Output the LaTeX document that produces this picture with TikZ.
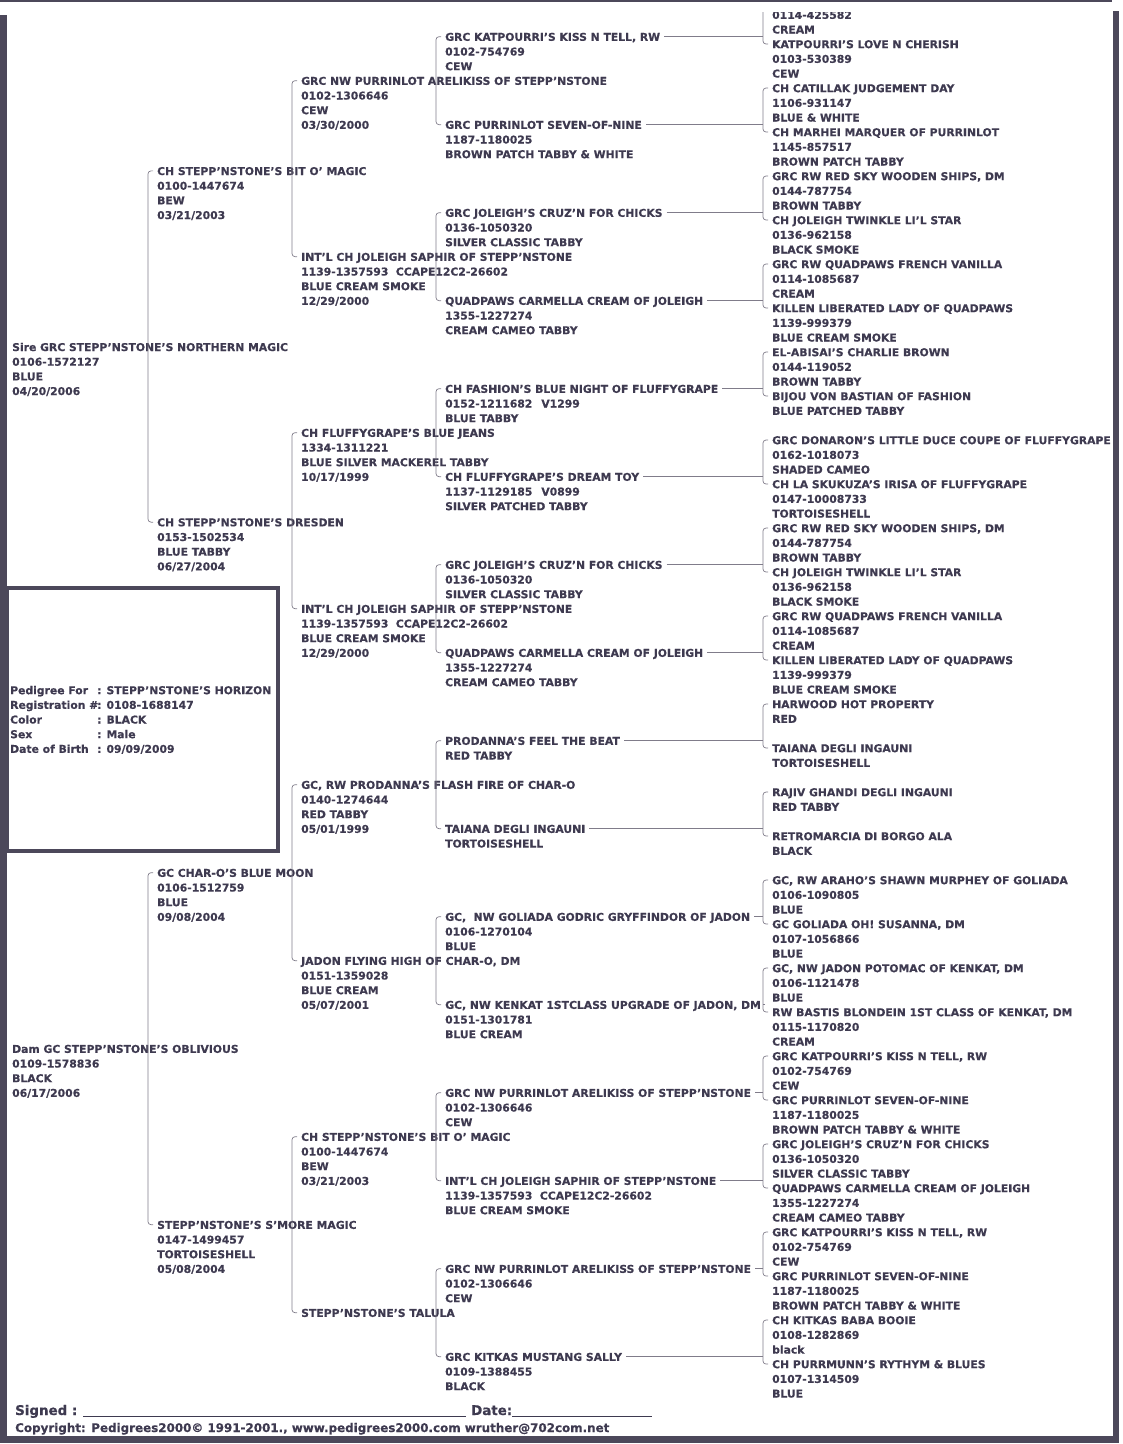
\documentclass[tikz,border=0pt]{standalone}
\usepackage{fontspec}
\setmainfont{DejaVu Sans}[BoldFeatures={FakeBold=0.5}]
\usetikzlibrary{calc}

\definecolor{ink}{RGB}{62,58,80}
\definecolor{wire}{RGB}{128,124,138}
\definecolor{framecol}{RGB}{76,72,90}

\begin{document}
\begin{tikzpicture}[
  x=1pt, y=-1pt,
  cat/.style={anchor=north west, inner sep=0pt, yshift=6.3pt, align=left, text=ink,
              font=\fontsize{10.8}{14.667}\selectfont\bfseries},
  brk/.style={draw=wire, line width=0.7pt, rounded corners=3pt},
  tie/.style={draw=wire, line width=0.7pt},
  foot/.style={anchor=base west, inner sep=0pt, text=ink}
]
\useasboundingbox (0,0) rectangle (1123,1444);

% --- page frame ---
\fill[framecol] (0,15) rectangle (7,1442);
\fill[framecol] (1113,11) rectangle (1119,1442);
\fill[framecol] (0,1436) rectangle (1119,1443);
\draw[framecol, line width=2pt] (0,1) -- (1112,1);
\draw[framecol, line width=4.5pt] (7,588) rectangle (278,851);

% --- the cat this is for ---
\node[cat] (info) at (10,690) {\strut\makebox[87pt][l]{Pedigree For}: STEPP'NSTONE'S HORIZON\\\makebox[87pt][l]{Registration \#}: 0108-1688147\\\makebox[87pt][l]{Color}: BLACK\\\makebox[87pt][l]{Sex}: Male\\\makebox[87pt][l]{Date of Birth}: 09/09/2009};

\begin{scope}[y=-14.667pt]
\clip (0,0.85) rectangle (1123,98.4);

% --- parents ---
\node[cat] (s) at (12,23.65) {\strut Sire GRC STEPP'NSTONE'S NORTHERN MAGIC\\0106-1572127\\BLUE\\04/20/2006};
\node[cat] (d) at (12,71.5) {\strut Dam GC STEPP'NSTONE'S OBLIVIOUS\\0109-1578836\\BLACK\\06/17/2006};

% --- grandparents ---
\node[cat] (ss) at (157,11.65) {\strut CH STEPP'NSTONE'S BIT O' MAGIC\\0100-1447674\\BEW\\03/21/2003};
\node[cat] (sd) at (157,35.6) {\strut CH STEPP'NSTONE'S DRESDEN\\0153-1502534\\BLUE TABBY\\06/27/2004};
\node[cat] (ds) at (157,59.5) {\strut GC CHAR-O'S BLUE MOON\\0106-1512759\\BLUE\\09/08/2004};
\node[cat] (dd) at (157,83.5) {\strut STEPP'NSTONE'S S'MORE MAGIC\\0147-1499457\\TORTOISESHELL\\05/08/2004};

% --- great-grandparents ---
\node[cat] (sss) at (301,5.5) {\strut GRC NW PURRINLOT ARELIKISS OF STEPP'NSTONE\\0102-1306646\\CEW\\03/30/2000};
\node[cat] (ssd) at (301,17.5) {\strut INT'L CH JOLEIGH SAPHIR OF STEPP'NSTONE\\1139-1357593\ \ CCAPE12C2-26602\\BLUE CREAM SMOKE\\12/29/2000};
\node[cat] (sds) at (301,29.5) {\strut CH FLUFFYGRAPE'S BLUE JEANS\\1334-1311221\\BLUE SILVER MACKEREL TABBY\\10/17/1999};
\node[cat] (sdd) at (301,41.5) {\strut INT'L CH JOLEIGH SAPHIR OF STEPP'NSTONE\\1139-1357593\ \ CCAPE12C2-26602\\BLUE CREAM SMOKE\\12/29/2000};
\node[cat] (dss) at (301,53.5) {\strut GC, RW PRODANNA'S FLASH FIRE OF CHAR-O\\0140-1274644\\RED TABBY\\05/01/1999};
\node[cat] (dsd) at (301,65.5) {\strut JADON FLYING HIGH OF CHAR-O, DM\\0151-1359028\\BLUE CREAM\\05/07/2001};
\node[cat] (dds) at (301,77.5) {\strut CH STEPP'NSTONE'S BIT O' MAGIC\\0100-1447674\\BEW\\03/21/2003};
\node[cat] (ddd) at (301,89.5) {\strut STEPP'NSTONE'S TALULA};

% --- generation 4 ---
\node[cat] (ssss) at (445,2.5) {\strut GRC KATPOURRI'S KISS N TELL, RW\\0102-754769\\CEW};
\node[cat] (sssd) at (445,8.5) {\strut GRC PURRINLOT SEVEN-OF-NINE\\1187-1180025\\BROWN PATCH TABBY \& WHITE};
\node[cat] (ssds) at (445,14.5) {\strut GRC JOLEIGH'S CRUZ'N FOR CHICKS\\0136-1050320\\SILVER CLASSIC TABBY};
\node[cat] (ssdd) at (445,20.5) {\strut QUADPAWS CARMELLA CREAM OF JOLEIGH\\1355-1227274\\CREAM CAMEO TABBY};
\node[cat] (sdss) at (445,26.5) {\strut CH FASHION'S BLUE NIGHT OF FLUFFYGRAPE\\0152-1211682\hspace{9pt}V1299\\BLUE TABBY};
\node[cat] (sdsd) at (445,32.5) {\strut CH FLUFFYGRAPE'S DREAM TOY\\1137-1129185\hspace{9pt}V0899\\SILVER PATCHED TABBY};
\node[cat] (sdds) at (445,38.5) {\strut GRC JOLEIGH'S CRUZ'N FOR CHICKS\\0136-1050320\\SILVER CLASSIC TABBY};
\node[cat] (sddd) at (445,44.5) {\strut QUADPAWS CARMELLA CREAM OF JOLEIGH\\1355-1227274\\CREAM CAMEO TABBY};
\node[cat] (dsss) at (445,50.5) {\strut PRODANNA'S FEEL THE BEAT\\RED TABBY};
\node[cat] (dssd) at (445,56.5) {\strut TAIANA DEGLI INGAUNI\\TORTOISESHELL};
\node[cat] (dsds) at (445,62.5) {\strut GC,\ \ NW GOLIADA GODRIC GRYFFINDOR OF JADON\\0106-1270104\\BLUE};
\node[cat] (dsdd) at (445,68.5) {\strut GC, NW KENKAT 1STCLASS UPGRADE OF JADON, DM\\0151-1301781\\BLUE CREAM};
\node[cat] (ddss) at (445,74.5) {\strut GRC NW PURRINLOT ARELIKISS OF STEPP'NSTONE\\0102-1306646\\CEW};
\node[cat] (ddsd) at (445,80.5) {\strut INT'L CH JOLEIGH SAPHIR OF STEPP'NSTONE\\1139-1357593\ \ CCAPE12C2-26602\\BLUE CREAM SMOKE};
\node[cat] (ddds) at (445,86.5) {\strut GRC NW PURRINLOT ARELIKISS OF STEPP'NSTONE\\0102-1306646\\CEW};
\node[cat] (dddd) at (445,92.5) {\strut GRC KITKAS MUSTANG SALLY\\0109-1388455\\BLACK};

% --- generation 5 ---
\node[cat] (sssss) at (772,0) {\strut\\0114-425582\\CREAM};
\node[cat] (ssssd) at (772,3) {\strut KATPOURRI'S LOVE N CHERISH\\0103-530389\\CEW};
\node[cat] (sssds) at (772,6) {\strut CH CATILLAK JUDGEMENT DAY\\1106-931147\\BLUE \& WHITE};
\node[cat] (sssdd) at (772,9) {\strut CH MARHEI MARQUER OF PURRINLOT\\1145-857517\\BROWN PATCH TABBY};
\node[cat] (ssdss) at (772,12) {\strut GRC RW RED SKY WOODEN SHIPS, DM\\0144-787754\\BROWN TABBY};
\node[cat] (ssdsd) at (772,15) {\strut CH JOLEIGH TWINKLE LI'L STAR\\0136-962158\\BLACK SMOKE};
\node[cat] (ssdds) at (772,18) {\strut GRC RW QUADPAWS FRENCH VANILLA\\0114-1085687\\CREAM};
\node[cat] (ssddd) at (772,21) {\strut KILLEN LIBERATED LADY OF QUADPAWS\\1139-999379\\BLUE CREAM SMOKE};
\node[cat] (sdsss) at (772,24) {\strut EL-ABISAI'S CHARLIE BROWN\\0144-119052\\BROWN TABBY};
\node[cat] (sdssd) at (772,27) {\strut BIJOU VON BASTIAN OF FASHION\\BLUE PATCHED TABBY};
\node[cat] (sdsds) at (772,30) {\strut GRC DONARON'S LITTLE DUCE COUPE OF FLUFFYGRAPE\\0162-1018073\\SHADED CAMEO};
\node[cat] (sdsdd) at (772,33) {\strut CH LA SKUKUZA'S IRISA OF FLUFFYGRAPE\\0147-10008733\\TORTOISESHELL};
\node[cat] (sddss) at (772,36) {\strut GRC RW RED SKY WOODEN SHIPS, DM\\0144-787754\\BROWN TABBY};
\node[cat] (sddsd) at (772,39) {\strut CH JOLEIGH TWINKLE LI'L STAR\\0136-962158\\BLACK SMOKE};
\node[cat] (sddds) at (772,42) {\strut GRC RW QUADPAWS FRENCH VANILLA\\0114-1085687\\CREAM};
\node[cat] (sdddd) at (772,45) {\strut KILLEN LIBERATED LADY OF QUADPAWS\\1139-999379\\BLUE CREAM SMOKE};
\node[cat] (dssss) at (772,48) {\strut HARWOOD HOT PROPERTY\\RED};
\node[cat] (dsssd) at (772,51) {\strut TAIANA DEGLI INGAUNI\\TORTOISESHELL};
\node[cat] (dssds) at (772,54) {\strut RAJIV GHANDI DEGLI INGAUNI\\RED TABBY};
\node[cat] (dssdd) at (772,57) {\strut RETROMARCIA DI BORGO ALA\\BLACK};
\node[cat] (dsdss) at (772,60) {\strut GC, RW ARAHO'S SHAWN MURPHEY OF GOLIADA\\0106-1090805\\BLUE};
\node[cat] (dsdsd) at (772,63) {\strut GC GOLIADA OH! SUSANNA, DM\\0107-1056866\\BLUE};
\node[cat] (dsdds) at (772,66) {\strut GC, NW JADON POTOMAC OF KENKAT, DM\\0106-1121478\\BLUE};
\node[cat] (dsddd) at (772,69) {\strut RW BASTIS BLONDEIN 1ST CLASS OF KENKAT, DM\\0115-1170820\\CREAM};
\node[cat] (ddsss) at (772,72) {\strut GRC KATPOURRI'S KISS N TELL, RW\\0102-754769\\CEW};
\node[cat] (ddssd) at (772,75) {\strut GRC PURRINLOT SEVEN-OF-NINE\\1187-1180025\\BROWN PATCH TABBY \& WHITE};
\node[cat] (ddsds) at (772,78) {\strut GRC JOLEIGH'S CRUZ'N FOR CHICKS\\0136-1050320\\SILVER CLASSIC TABBY};
\node[cat] (ddsdd) at (772,81) {\strut QUADPAWS CARMELLA CREAM OF JOLEIGH\\1355-1227274\\CREAM CAMEO TABBY};
\node[cat] (dddss) at (772,84) {\strut GRC KATPOURRI'S KISS N TELL, RW\\0102-754769\\CEW};
\node[cat] (dddsd) at (772,87) {\strut GRC PURRINLOT SEVEN-OF-NINE\\1187-1180025\\BROWN PATCH TABBY \& WHITE};
\node[cat] (dddds) at (772,90) {\strut CH KITKAS BABA BOOIE\\0108-1282869\\black};
\node[cat] (ddddd) at (772,93) {\strut CH PURRMUNN'S RYTHYM \& BLUES\\0107-1314509\\BLUE};

% --- brackets, generations 1 to 4 ---
\draw[brk] ([xshift=-4pt,yshift=-6.3pt]ss.north west) -- ++(-5pt,0) |- ([xshift=-4pt,yshift=-6.3pt]sd.north west);
\draw[brk] ([xshift=-4pt,yshift=-6.3pt]ds.north west) -- ++(-5pt,0) |- ([xshift=-4pt,yshift=-6.3pt]dd.north west);

\draw[brk] ([xshift=-4pt,yshift=-6.3pt]sss.north west) -- ++(-5pt,0) |- ([xshift=-4pt,yshift=-6.3pt]ssd.north west);
\draw[brk] ([xshift=-4pt,yshift=-6.3pt]sds.north west) -- ++(-5pt,0) |- ([xshift=-4pt,yshift=-6.3pt]sdd.north west);
\draw[brk] ([xshift=-4pt,yshift=-6.3pt]dss.north west) -- ++(-5pt,0) |- ([xshift=-4pt,yshift=-6.3pt]dsd.north west);
\draw[brk] ([xshift=-4pt,yshift=-6.3pt]dds.north west) -- ++(-5pt,0) |- ([xshift=-4pt,yshift=-6.3pt]ddd.north west);

\draw[brk] ([xshift=-4pt,yshift=-6.3pt]ssss.north west) -- ++(-5pt,0) |- ([xshift=-4pt,yshift=-6.3pt]sssd.north west);
\draw[brk] ([xshift=-4pt,yshift=-6.3pt]ssds.north west) -- ++(-5pt,0) |- ([xshift=-4pt,yshift=-6.3pt]ssdd.north west);
\draw[brk] ([xshift=-4pt,yshift=-6.3pt]sdss.north west) -- ++(-5pt,0) |- ([xshift=-4pt,yshift=-6.3pt]sdsd.north west);
\draw[brk] ([xshift=-4pt,yshift=-6.3pt]sdds.north west) -- ++(-5pt,0) |- ([xshift=-4pt,yshift=-6.3pt]sddd.north west);
\draw[brk] ([xshift=-4pt,yshift=-6.3pt]dsss.north west) -- ++(-5pt,0) |- ([xshift=-4pt,yshift=-6.3pt]dssd.north west);
\draw[brk] ([xshift=-4pt,yshift=-6.3pt]dsds.north west) -- ++(-5pt,0) |- ([xshift=-4pt,yshift=-6.3pt]dsdd.north west);
\draw[brk] ([xshift=-4pt,yshift=-6.3pt]ddss.north west) -- ++(-5pt,0) |- ([xshift=-4pt,yshift=-6.3pt]ddsd.north west);
\draw[brk] ([xshift=-4pt,yshift=-6.3pt]ddds.north west) -- ++(-5pt,0) |- ([xshift=-4pt,yshift=-6.3pt]dddd.north west);

% --- brackets and ties, generation 5 ---
\draw[brk] ([xshift=-4pt,yshift=-6.3pt]sssss.north west) -- ++(-5pt,0) |- ([xshift=-4pt,yshift=-6.3pt]ssssd.north west);
\draw[brk] ([xshift=-4pt,yshift=-6.3pt]sssds.north west) -- ++(-5pt,0) |- ([xshift=-4pt,yshift=-6.3pt]sssdd.north west);
\draw[brk] ([xshift=-4pt,yshift=-6.3pt]ssdss.north west) -- ++(-5pt,0) |- ([xshift=-4pt,yshift=-6.3pt]ssdsd.north west);
\draw[brk] ([xshift=-4pt,yshift=-6.3pt]ssdds.north west) -- ++(-5pt,0) |- ([xshift=-4pt,yshift=-6.3pt]ssddd.north west);
\draw[brk] ([xshift=-4pt,yshift=-6.3pt]sdsss.north west) -- ++(-5pt,0) |- ([xshift=-4pt,yshift=-6.3pt]sdssd.north west);
\draw[brk] ([xshift=-4pt,yshift=-6.3pt]sdsds.north west) -- ++(-5pt,0) |- ([xshift=-4pt,yshift=-6.3pt]sdsdd.north west);
\draw[brk] ([xshift=-4pt,yshift=-6.3pt]sddss.north west) -- ++(-5pt,0) |- ([xshift=-4pt,yshift=-6.3pt]sddsd.north west);
\draw[brk] ([xshift=-4pt,yshift=-6.3pt]sddds.north west) -- ++(-5pt,0) |- ([xshift=-4pt,yshift=-6.3pt]sdddd.north west);
\draw[brk] ([xshift=-4pt,yshift=-6.3pt]dssss.north west) -- ++(-5pt,0) |- ([xshift=-4pt,yshift=-6.3pt]dsssd.north west);
\draw[brk] ([xshift=-4pt,yshift=-6.3pt]dssds.north west) -- ++(-5pt,0) |- ([xshift=-4pt,yshift=-6.3pt]dssdd.north west);
\draw[brk] ([xshift=-4pt,yshift=-6.3pt]dsdss.north west) -- ++(-5pt,0) |- ([xshift=-4pt,yshift=-6.3pt]dsdsd.north west);
\draw[brk] ([xshift=-4pt,yshift=-6.3pt]dsdds.north west) -- ++(-5pt,0) |- ([xshift=-4pt,yshift=-6.3pt]dsddd.north west);
\draw[brk] ([xshift=-4pt,yshift=-6.3pt]ddsss.north west) -- ++(-5pt,0) |- ([xshift=-4pt,yshift=-6.3pt]ddssd.north west);
\draw[brk] ([xshift=-4pt,yshift=-6.3pt]ddsds.north west) -- ++(-5pt,0) |- ([xshift=-4pt,yshift=-6.3pt]ddsdd.north west);
\draw[brk] ([xshift=-4pt,yshift=-6.3pt]dddss.north west) -- ++(-5pt,0) |- ([xshift=-4pt,yshift=-6.3pt]dddsd.north west);
\draw[brk] ([xshift=-4pt,yshift=-6.3pt]dddds.north west) -- ++(-5pt,0) |- ([xshift=-4pt,yshift=-6.3pt]ddddd.north west);

\draw[tie] ([xshift=4pt,yshift=-6.3pt]ssss.north east) -- ($(ssss.north east -| sssss.north west)+(-9pt,-6.3pt)$);
\draw[tie] ([xshift=4pt,yshift=-6.3pt]sssd.north east) -- ($(sssd.north east -| sssds.north west)+(-9pt,-6.3pt)$);
\draw[tie] ([xshift=4pt,yshift=-6.3pt]ssds.north east) -- ($(ssds.north east -| ssdss.north west)+(-9pt,-6.3pt)$);
\draw[tie] ([xshift=4pt,yshift=-6.3pt]ssdd.north east) -- ($(ssdd.north east -| ssdds.north west)+(-9pt,-6.3pt)$);
\draw[tie] ([xshift=4pt,yshift=-6.3pt]sdss.north east) -- ($(sdss.north east -| sdsss.north west)+(-9pt,-6.3pt)$);
\draw[tie] ([xshift=4pt,yshift=-6.3pt]sdsd.north east) -- ($(sdsd.north east -| sdsds.north west)+(-9pt,-6.3pt)$);
\draw[tie] ([xshift=4pt,yshift=-6.3pt]sdds.north east) -- ($(sdds.north east -| sddss.north west)+(-9pt,-6.3pt)$);
\draw[tie] ([xshift=4pt,yshift=-6.3pt]sddd.north east) -- ($(sddd.north east -| sddds.north west)+(-9pt,-6.3pt)$);
\draw[tie] ([xshift=4pt,yshift=-6.3pt]dsss.north east) -- ($(dsss.north east -| dssss.north west)+(-9pt,-6.3pt)$);
\draw[tie] ([xshift=4pt,yshift=-6.3pt]dssd.north east) -- ($(dssd.north east -| dssds.north west)+(-9pt,-6.3pt)$);
\draw[tie] ([xshift=4pt,yshift=-6.3pt]dsds.north east) -- ($(dsds.north east -| dsdss.north west)+(-9pt,-6.3pt)$);
\draw[tie] ([xshift=4pt,yshift=-6.3pt]dsdd.north east) -- ($(dsdd.north east -| dsdds.north west)+(-9pt,-6.3pt)$);
\draw[tie] ([xshift=4pt,yshift=-6.3pt]ddss.north east) -- ($(ddss.north east -| ddsss.north west)+(-9pt,-6.3pt)$);
\draw[tie] ([xshift=4pt,yshift=-6.3pt]ddsd.north east) -- ($(ddsd.north east -| ddsds.north west)+(-9pt,-6.3pt)$);
\draw[tie] ([xshift=4pt,yshift=-6.3pt]ddds.north east) -- ($(ddds.north east -| dddss.north west)+(-9pt,-6.3pt)$);
\draw[tie] ([xshift=4pt,yshift=-6.3pt]dddd.north east) -- ($(dddd.north east -| dddds.north west)+(-9pt,-6.3pt)$);
\end{scope}

% --- footer ---
\node[foot, font=\fontsize{13.4}{16}\selectfont\bfseries] (sign) at (15,1415) {Signed : \rule[-2pt]{383pt}{0.9pt} Date:\rule[-2pt]{140pt}{0.9pt}};
\node[foot, font=\fontsize{11.9}{13}\selectfont\bfseries] (copy) at (15,1432) {Copyright: Pedigrees2000© 1991-2001., www.pedigrees2000.com wruther@702com.net};

\end{tikzpicture}
\end{document}
